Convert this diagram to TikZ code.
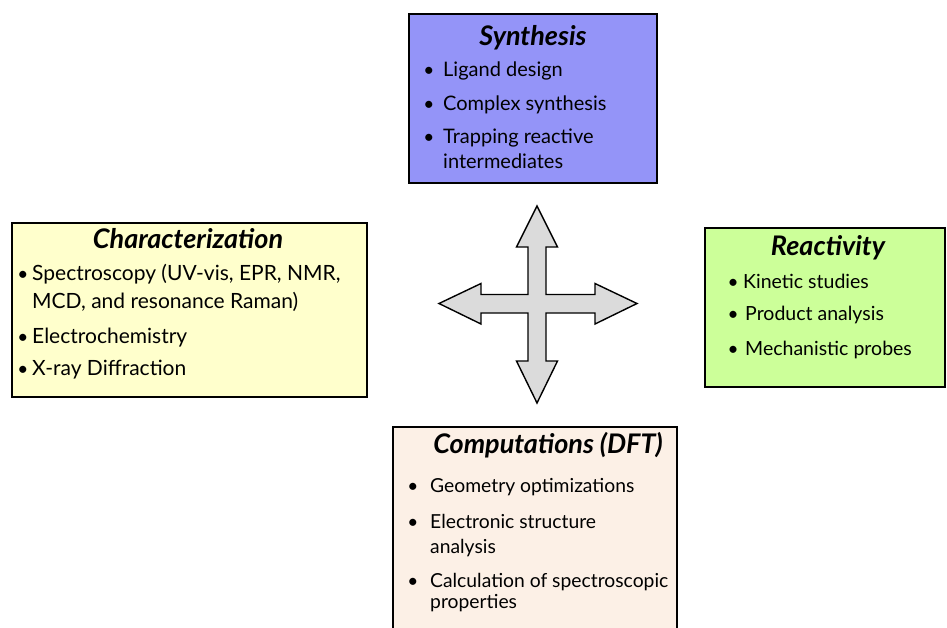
\documentclass[tikz,border=0pt]{standalone}
\usepackage{fontspec}
\setmainfont{Lato}
\begin{document}
\begin{tikzpicture}[x=1pt,y=-1pt,
  box/.style={draw=black,line width=2pt,inner sep=0pt},
  ttl/.style={anchor=base,inner sep=0pt,font=\fontsize{27}{30}\selectfont\bfseries\itshape},
  itm/.style={anchor=base west,inner sep=0pt,font=\fontsize{20}{23}\selectfont},
  itmc/.style={itm,font=\fontsize{21}{24}\selectfont},
  itmr/.style={itm,font=\fontsize{19.5}{23}\selectfont},
  itmp/.style={itm,font=\fontsize{19.3}{23}\selectfont},
  blt/.style={anchor=base,inner sep=0pt,font=\fontsize{19}{22}\selectfont},
  crossarrow/.style={fill=gray!28,draw=black,line width=1.4pt,line join=miter}
]
\useasboundingbox (0,0) rectangle (947,627);
\clip (0,0) rectangle (947,627);
\fill[white] (0,0) rectangle (947,627);
\definecolor{synfill}{HTML}{9494F8}
\definecolor{charfill}{HTML}{FFFFCC}
\definecolor{reafill}{HTML}{CCFF99}
\definecolor{compfill}{HTML}{FCF0E6}

% boxes
\draw[box,fill=synfill] (409,14) rectangle (657,183);
\coordinate (synbox) at (533,98);
\draw[box,fill=charfill] (12,223) rectangle (367,397);
\coordinate (charbox) at (190,310);
\draw[box,fill=reafill] (705,228) rectangle (945,387);
\coordinate (reabox) at (825,307);
\draw[box,fill=compfill] (393,427) rectangle (677,650);
\coordinate (compbox) at (535,530);

% cross arrow
\draw[crossarrow]
  (537,206) -- (557.5,247) -- (546,247) -- (546,294.5) -- (595,294.5) -- (595,283.5)
  -- (637,303.5) -- (595,324) -- (595,313) -- (546,313) -- (546,361) -- (557.5,361)
  -- (537,403) -- (516.5,361) -- (528,361) -- (528,313) -- (481,313) -- (481,324)
  -- (439,303.5) -- (481,283.5) -- (481,294.5) -- (528,294.5) -- (528,247) -- (516.5,247) -- cycle;

% Synthesis
\node[ttl] (synT) at (533,45) {Synthesis};
\node[blt] (synb1) at (429,76) {•};
\node[itm] (syn1) at (443,76) {Ligand design};
\node[blt] (synb2) at (429,110) {•};
\node[itm] (syn2) at (443,110) {Complex synthesis};
\node[blt] (synb3) at (429,143) {•};
\node[itm] (syn3) at (443,143) {Trapping reactive};
\node[itm] (syn3b) at (443,168) {intermediates};

% Characterization
\node[ttl] (chT) at (188,248) {Characterization};
\node[blt] (chb1) at (23,280) {•};
\node[itmc] (ch1) at (32,280) {Spectroscopy (UV-vis, EPR, NMR,};
\node[itmc] (ch1b) at (32,308) {MCD, and resonance Raman)};
\node[blt] (chb2) at (23,343) {•};
\node[itmc] (ch2) at (32,343) {Electrochemistry};
\node[blt] (chb3) at (23,375) {•};
\node[itmc] (ch3) at (32,375) {X-ray Diffraction};

% Reactivity
\node[ttl] (reT) at (828,255) {Reactivity};
\node[blt] (reb1) at (733,288) {•};
\node[itmr] (re1) at (743,288) {Kinetic studies};
\node[blt] (reb2) at (733,320) {•};
\node[itmr] (re2) at (745,320) {Product analysis};
\node[blt] (reb3) at (733,355) {•};
\node[itmr] (re3) at (745,355) {Mechanistic probes};

% Computations
\node[ttl] (coT) at (548,453) {Computations (DFT)};
\node[blt] (cob1) at (413,492) {•};
\node[itmp] (co1) at (430,492) {Geometry optimizations};
\node[blt] (cob2) at (413,528) {•};
\node[itmp] (co2) at (430,528) {Electronic structure};
\node[itmp] (co2b) at (430,553) {analysis};
\node[blt] (cob3) at (413,587) {•};
\node[itmp] (co3) at (430,587) {Calculation of spectroscopic};
\node[itmp] (co3b) at (430,608) {properties};
\end{tikzpicture}
\end{document}
